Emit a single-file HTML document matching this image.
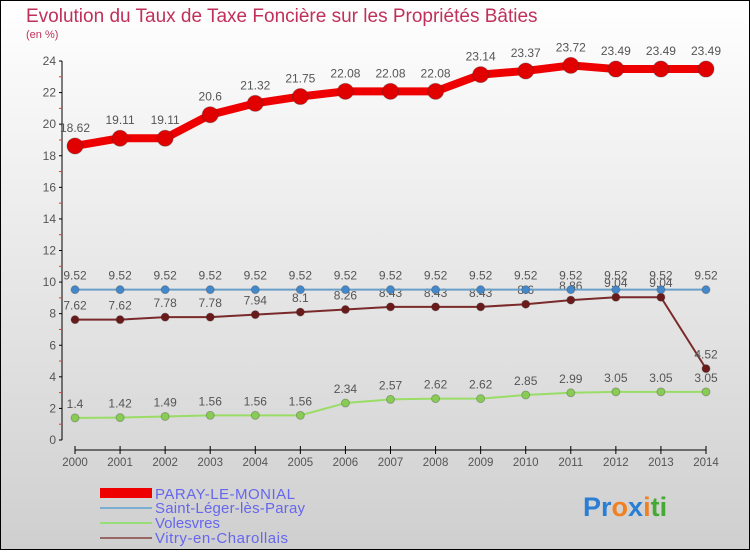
<!DOCTYPE html>
<html><head><meta charset="utf-8"><style>
body{margin:0;width:750px;height:550px;overflow:hidden;font-family:"Liberation Sans",sans-serif}
</style></head><body>
<svg id="c" width="750" height="550" xmlns="http://www.w3.org/2000/svg">
<defs><linearGradient id="bg" x1="0" y1="0" x2="0" y2="1"><stop offset="0" stop-color="#ffffff"/><stop offset="1" stop-color="#cfcfcf"/></linearGradient></defs>
<rect x="0.5" y="0.5" width="749" height="549" fill="url(#bg)" stroke="#000"/>
<text x="26" y="22" font-size="19" fill="#c0305a">Evolution du Taux de Taxe Foncière sur les Propriétés Bâties</text>
<text x="26" y="38" font-size="11" fill="#c0305a">(en %)</text>
<g id="axes"></g><g id="series"></g>
<g>
<rect x="100" y="488" width="52" height="10" fill="#e00"/>
<text x="155" y="499" font-size="15" fill="#6666ee" textLength="140">PARAY-LE-MONIAL</text>
<line x1="100" y1="508" x2="152" y2="508" stroke="#7aaed0" stroke-width="2"/>
<text x="155" y="513" font-size="15" fill="#6666ee" textLength="150">Saint-Léger-lès-Paray</text>
<line x1="100" y1="523" x2="152" y2="523" stroke="#99dd77" stroke-width="2"/>
<text x="155" y="528" font-size="15" fill="#6666ee" textLength="65">Volesvres</text>
<line x1="100" y1="538" x2="152" y2="538" stroke="#996666" stroke-width="2"/>
<text x="155" y="543" font-size="15" fill="#6666ee" textLength="133">Vitry-en-Charollais</text>
</g>
<text x="583" y="516" font-size="27" font-weight="bold"><tspan fill="#2a7fd4">Pr</tspan><tspan fill="#f08020">o</tspan><tspan fill="#2a7fd4">x</tspan><tspan fill="#f08020">i</tspan><tspan fill="#44aa33">ti</tspan></text>
</svg>
<script>
const years=[2000,2001,2002,2003,2004,2005,2006,2007,2008,2009,2010,2011,2012,2013,2014];
const paray=[18.62,19.11,19.11,20.6,21.32,21.75,22.08,22.08,22.08,23.14,23.37,23.72,23.49,23.49,23.49];
const stleger=[9.52,9.52,9.52,9.52,9.52,9.52,9.52,9.52,9.52,9.52,9.52,9.52,9.52,9.52,9.52];
const volesvres=[1.4,1.42,1.49,1.56,1.56,1.56,2.34,2.57,2.62,2.62,2.85,2.99,3.05,3.05,3.05];
const vitry=[7.62,7.62,7.78,7.78,7.94,8.1,8.26,8.43,8.43,8.43,8.6,8.86,9.04,9.04,4.52];
const yTicks=[0,2,4,6,8,10,12,14,16,18,20,22,24];
const NS="http://www.w3.org/2000/svg";
const X=i=>75+i*(706-75)/(years.length-1);
const Y=v=>440-v*(440-61)/24;
function mk(t,a,p){const e=document.createElementNS(NS,t);for(const k in a)e.setAttribute(k,a[k]);p.appendChild(e);return e;}
const ax=document.getElementById('axes');
let l=mk('line',{x1:62,y1:Y(0),x2:62,y2:Y(24),stroke:'#000'},ax);


yTicks.forEach(v=>{
 mk('line',{x1:59,y1:Y(v),x2:62,y2:Y(v),stroke:'#000'},ax);
 mk('line',{x1:59,y1:Y(v+1),x2:62,y2:Y(v+1),stroke:v<24?'#e33':'none'},ax);
 const t=mk('text',{x:56,y:Y(v)+4,'font-size':12,fill:'#555','text-anchor':'end'},ax);t.textContent=v;
 
 
});
l=mk('line',{x1:75,y1:450,x2:706,y2:450,stroke:'#000'},ax);


years.forEach((y,i)=>{
 mk('line',{x1:X(i),y1:446,x2:X(i),y2:454,stroke:'#000'},ax);
 const t=mk('text',{x:X(i),y:466,'font-size':11.5,fill:'#555','text-anchor':'middle'},ax);t.textContent=y;
 
 
});
const sg=document.getElementById('series');
function draw(data,name,color,dot,w,r,lbl){
 const g=mk('g',{},sg);
 
 
 const p=mk('polyline',{points:data.map((v,i)=>X(i)+','+Y(v)).join(' '),fill:'none',stroke:color,'stroke-width':w,'stroke-linejoin':'round'},g);
 
 
 data.forEach((v,i)=>{
  const c=mk('circle',{cx:X(i),cy:Y(v),r:r,fill:dot,stroke:'#333','stroke-opacity':0.3},g);
  
  
  const t=mk('text',{x:X(i),y:Y(v)-lbl,'font-size':12,fill:'#555','text-anchor':'middle'},g);
  t.textContent=String(v);
  
  
 });
}
draw(volesvres,'volesvres','#99dd66','#88cc55',2,4,10);
draw(vitry,'vitry','#7a2a2a','#6a1a1a',2,4,10);
draw(stleger,'saint-leger','#6a9fc8','#4488cc',2,4,10);
draw(paray,'paray','#ee0000','#e00000',8,8,14);
</script>
</body></html>
